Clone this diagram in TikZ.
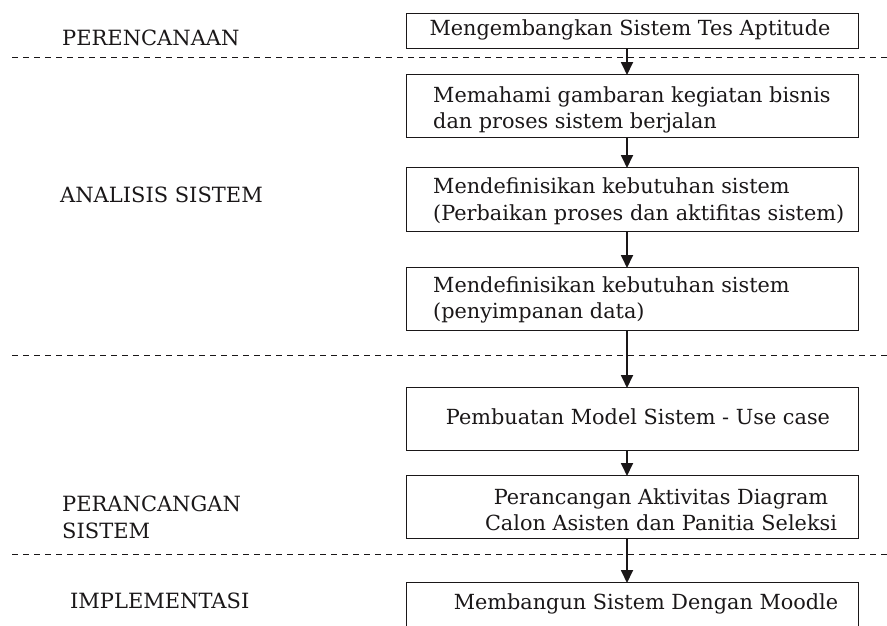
\documentclass[tikz,border=0pt]{standalone}
\usepackage{fontspec}
\setmainfont{DejaVu Serif}
\usetikzlibrary{arrows.meta}
\definecolor{ink}{HTML}{1A1718}
\tikzset{
  stagebox/.style={draw=ink, line width=1.3pt, rectangle, minimum width=452pt, inner sep=0pt, anchor=north west},
  boxtext/.style={text=ink, font=\fontsize{20.8}{26}\selectfont, inner sep=0pt, anchor=base west},
  ctext/.style={text=ink, font=\fontsize{20.8}{26}\selectfont, inner sep=0pt, anchor=base},
  phase/.style={text=ink, font=\fontsize{21}{26}\selectfont, inner sep=0pt, anchor=base west},
  sep/.style={draw=ink, line width=0.9pt, dash pattern=on 6pt off 5pt},
  flow/.style={draw=ink, line width=1.8pt, -{Triangle[width=12pt,length=13pt]}, shorten >=-1pt}
}
\begin{document}
\begin{tikzpicture}[x=1pt,y=-1pt]
\useasboundingbox (0,0) rectangle (887,625);
\clip (0,0) rectangle (887,625);
% boxes
\node[stagebox, minimum height=35pt] (b1) at (406,13) {};
\node[stagebox, minimum height=63pt] (b2) at (406,74) {};
\node[stagebox, minimum height=64pt] (b3) at (406,167) {};
\node[stagebox, minimum height=63pt] (b4) at (406,267) {};
\node[stagebox, minimum height=63pt] (b5) at (406,387) {};
\node[stagebox, minimum height=63pt] (b6) at (406,475) {};
\node[stagebox, minimum height=63pt] (b7) at (406,582) {};
% box texts
\node[ctext] (t1) at (630,35) {Mengembangkan Sistem Tes Aptitude};
\node[boxtext] (t2a) at (433,102) {Memahami gambaran kegiatan bisnis};
\node[boxtext] (t2b) at (433,128) {dan proses sistem berjalan};
\node[boxtext] (t3a) at (433,193) {Mendefinisikan kebutuhan sistem};
\node[boxtext] (t3b) at (433,220) {(Perbaikan proses dan aktifitas sistem)};
\node[boxtext] (t4a) at (433,292) {Mendefinisikan kebutuhan sistem};
\node[boxtext] (t4b) at (433,318) {(penyimpanan data)};
\node[ctext] (t5) at (638,424) {Pembuatan Model Sistem - Use case};
\node[ctext] (t6a) at (661,504) {Perancangan Aktivitas Diagram};
\node[ctext] (t6b) at (661,530) {Calon Asisten dan Panitia Seleksi};
\node[ctext] (t7) at (646,609) {Membangun Sistem Dengan Moodle};
% phase labels
\node[phase] (p1) at (62,45) {PERENCANAAN};
\node[phase] (p2) at (60,202) {ANALISIS SISTEM};
\node[phase] (p3a) at (62,511) {PERANCANGAN};
\node[phase] (p3b) at (62,538) {SISTEM};
\node[phase] (p4) at (70,608) {IMPLEMENTASI};
% separators
\coordinate (s1a) at (12,57); \coordinate (s1b) at (887,57);
\coordinate (s2a) at (12,355); \coordinate (s2b) at (887,355);
\coordinate (s3a) at (12,554); \coordinate (s3b) at (887,554);
\draw[sep] (s1a) -- (s1b);
\draw[sep] (s2a) -- (s2b);
\draw[sep] (s3a) -- (s3b);
% arrows
\draw[flow] (b1.south -| 627,0) -- (b2.north -| 627,0);
\draw[flow] (b2.south -| 627,0) -- (b3.north -| 627,0);
\draw[flow] (b3.south -| 627,0) -- (b4.north -| 627,0);
\draw[flow] (b4.south -| 627,0) -- (b5.north -| 627,0);
\draw[flow] (b5.south -| 627,0) -- (b6.north -| 627,0);
\draw[flow] (b6.south -| 627,0) -- (b7.north -| 627,0);
\end{tikzpicture}
\end{document}
